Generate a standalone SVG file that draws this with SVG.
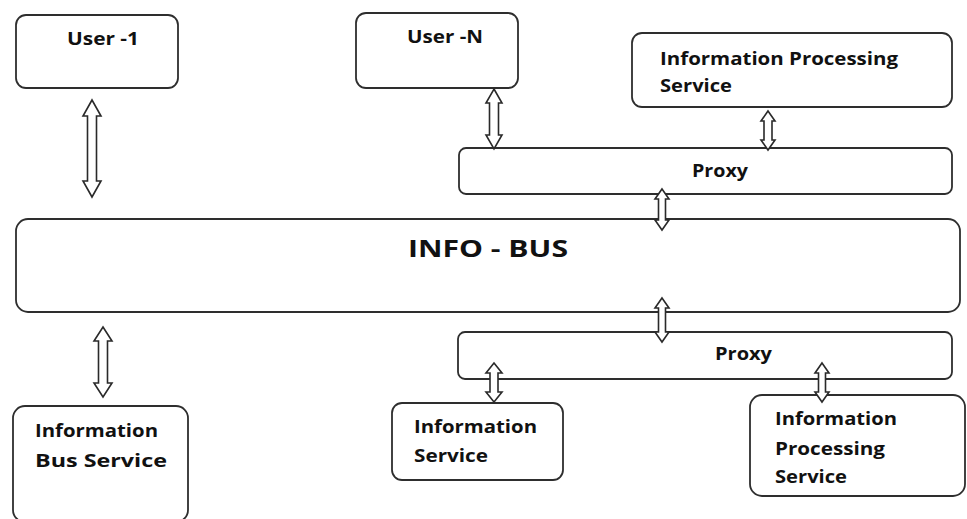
<svg xmlns="http://www.w3.org/2000/svg" width="967" height="519" viewBox="0 0 967 519">
  <style>
    .box { fill: #ffffff; stroke: #2e2e2e; stroke-width: 1.8; }
    .arrow { fill: #ffffff; stroke: #2a2a2a; stroke-width: 1.6; stroke-linejoin: miter; }
    .lbl { font-family: "Open Sans", "Liberation Sans", Arial, sans-serif; font-weight: bold; font-size: 17.5px; fill: #111111; }
    .big { font-size: 24px; }
  </style>
  <rect width="967" height="519" fill="#ffffff"/>

  <g id="user-1">
    <rect class="box" x="16" y="15" width="162" height="73" rx="10"/>
    <text class="lbl" x="67" y="45" textLength="72" lengthAdjust="spacingAndGlyphs">User -1</text>
  </g>

  <g id="user-n">
    <rect class="box" x="356" y="13" width="162" height="75" rx="10"/>
    <text class="lbl" x="407" y="43" textLength="76" lengthAdjust="spacingAndGlyphs">User -N</text>
  </g>

  <g id="info-processing-top">
    <rect class="box" x="632" y="33" width="320" height="74" rx="10"/>
    <text class="lbl" x="660" y="65" textLength="238" lengthAdjust="spacingAndGlyphs">Information Processing</text>
    <text class="lbl" x="660" y="92" textLength="72" lengthAdjust="spacingAndGlyphs">Service</text>
  </g>

  <g id="proxy-top">
    <rect class="box" x="459" y="148" width="493" height="46" rx="7"/>
    <text class="lbl" x="692" y="177" textLength="56" lengthAdjust="spacingAndGlyphs">Proxy</text>
  </g>

  <g id="info-bus">
    <rect class="box" x="16" y="219" width="944" height="93" rx="12"/>
    <text class="lbl big" x="408" y="257" textLength="160" lengthAdjust="spacingAndGlyphs">INFO - BUS</text>
  </g>

  <g id="proxy-bottom">
    <rect class="box" x="458" y="332" width="494" height="47" rx="7"/>
    <text class="lbl" x="715" y="360" textLength="57" lengthAdjust="spacingAndGlyphs">Proxy</text>
  </g>

  <g id="info-bus-service">
    <rect class="box" x="13" y="406" width="175" height="116" rx="12"/>
    <text class="lbl" x="35" y="437" textLength="123" lengthAdjust="spacingAndGlyphs">Information</text>
    <text class="lbl" x="35" y="467" textLength="132" lengthAdjust="spacingAndGlyphs">Bus Service</text>
  </g>

  <g id="info-service">
    <rect class="box" x="392" y="403" width="171" height="77" rx="10"/>
    <text class="lbl" x="414" y="433" textLength="123" lengthAdjust="spacingAndGlyphs">Information</text>
    <text class="lbl" x="414" y="462" textLength="74" lengthAdjust="spacingAndGlyphs">Service</text>
  </g>

  <g id="info-processing-bottom">
    <rect class="box" x="750" y="395" width="215" height="101" rx="12"/>
    <text class="lbl" x="775" y="425" textLength="122" lengthAdjust="spacingAndGlyphs">Information</text>
    <text class="lbl" x="775" y="455" textLength="110" lengthAdjust="spacingAndGlyphs">Processing</text>
    <text class="lbl" x="775" y="483" textLength="72" lengthAdjust="spacingAndGlyphs">Service</text>
  </g>

  <!-- hollow double-headed connectors -->
  <g id="connectors">
    <polygon class="arrow" points="92,100 101,116 96.5,116 96.5,181 101,181 92,197 83,181 87.5,181 87.5,116 83,116"/>
    <polygon class="arrow" points="494,89 502,103 498.5,103 498.5,135 502,135 494,149 486,135 489.5,135 489.5,103 486,103"/>
    <polygon class="arrow" points="768,111 775,121 772,121 772,140 775,140 768,150 761,140 764,140 764,121 761,121"/>
    <polygon class="arrow" points="662,189 669,199 665.5,199 665.5,220 669,220 662,230 655,220 658.5,220 658.5,199 655,199"/>
    <polygon class="arrow" points="662,298 669,308 665.5,308 665.5,332 669,332 662,342 655,332 658.5,332 658.5,308 655,308"/>
    <polygon class="arrow" points="103,327 112,341 107.5,341 107.5,383 112,383 103,397 94,383 98.5,383 98.5,341 94,341"/>
    <polygon class="arrow" points="494,363 502,373 498,373 498,392 502,392 494,402 486,392 490,392 490,373 486,373"/>
    <polygon class="arrow" points="822,363 829,373 825.5,373 825.5,392 829,392 822,402 815,392 818.5,392 818.5,373 815,373"/>
  </g>
</svg>
